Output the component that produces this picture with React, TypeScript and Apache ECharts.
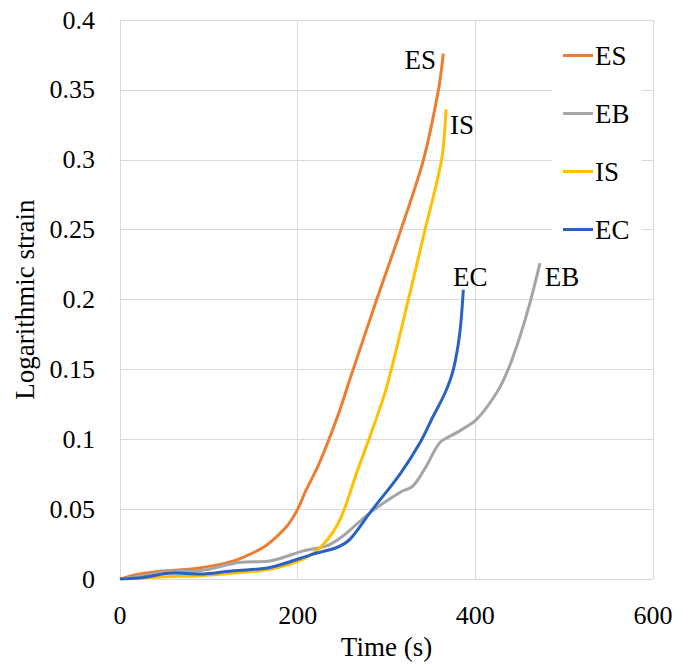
import React, { useEffect, useRef } from "react";
import * as echarts from "echarts";

const seriesNames = ["ES", "EB", "IS", "EC"];
const colors = ["#ED7D31", "#A5A5A5", "#FFC000", "#2962C4"];

const esData: [number, number][] = [
  [0, 0], [22, 0.0036], [52, 0.006], [86, 0.0076], [128, 0.013], [158, 0.0214],
  [169, 0.0262], [188, 0.038], [199, 0.0488], [210, 0.0643], [223, 0.081],
  [234.5, 0.0988], [247.7, 0.1214], [258.8, 0.143], [289, 0.2], [315, 0.2476],
  [341.6, 0.3], [358.5, 0.35], [364, 0.376],
];
const ebData: [number, number][] = [
  [0, 0], [26, 0.0024], [52, 0.0052], [90, 0.006], [135, 0.012], [169, 0.013],
  [206.4, 0.0202], [232.6, 0.0238], [251.4, 0.031], [281.5, 0.0476], [315, 0.062],
  [330, 0.0667], [345, 0.081], [360, 0.0976], [379, 0.1048], [401.5, 0.1143],
  [424, 0.1333], [437, 0.15], [450.3, 0.1738], [461.5, 0.1976], [472.8, 0.226],
];
const isData: [number, number][] = [
  [0, 0], [52, 0.0017], [90, 0.0024], [128, 0.0043], [169, 0.0071], [206, 0.0143],
  [229, 0.025], [248, 0.043], [266.4, 0.076], [281.5, 0.1024], [300, 0.137],
  [324.6, 0.2], [343.4, 0.25], [362, 0.3], [367, 0.336],
];
const ecData: [number, number][] = [
  [0, 0], [26, 0.0012], [60, 0.0043], [90, 0.0036], [128, 0.006], [169, 0.0083],
  [217.6, 0.0179], [244, 0.0226], [259, 0.0286], [281.5, 0.0476], [315, 0.075],
  [337.7, 0.0976], [352.7, 0.1167], [366, 0.1333], [375.3, 0.15], [382.5, 0.176],
  [386.5, 0.207],
];

const xTicks = { min: 0, max: 600, interval: 200 };
const yTicks = { min: 0, max: 0.4, interval: 0.05 };

const FONT = "Liberation Serif, Times New Roman, serif";
const labelOffsets: Record<string, [number, number]> = {
  ES: [-23, 6],
  EB: [22, 14],
  IS: [16, 16],
  EC: [7, -13],
};

export default function App() {
  const ref = useRef<HTMLDivElement>(null);
  useEffect(() => {
    if (!ref.current) return;
    const chart = echarts.init(ref.current, null, { renderer: "svg" });
    const all = [esData, ebData, isData, ecData];
    const series = seriesNames.map((name, i) => ({
      name,
      type: "line",
      smooth: 0.3,
      symbol: "none",
      itemStyle: { color: colors[i] },
      lineStyle: { color: colors[i], width: 3 },
      z: 2 + i,
      endLabel: {
        show: true,
        formatter: name,
        distance: 0,
        align: "center",
        verticalAlign: "middle",
        offset: labelOffsets[name],
        fontFamily: FONT,
        fontSize: 27,
        color: "#000",
      },
      data: all[i],
    }));
    chart.setOption({
      animation: false,
      backgroundColor: "#fff",
      grid: { left: 120, top: 20, right: 35, bottom: 85 },
      legend: {
        data: seriesNames,
        orient: "vertical",
        left: 552,
        top: 32,
        padding: [10, 12, 10, 11],
        itemGap: 31,
        itemWidth: 30,
        itemHeight: 3,
        icon: "rect",
        backgroundColor: "#fff",
        textStyle: { fontFamily: FONT, fontSize: 27, color: "#000", padding: [0, 0, 0, -3] },
      },
      xAxis: {
        type: "value",
        min: xTicks.min,
        max: xTicks.max,
        interval: xTicks.interval,
        name: "Time (s)",
        nameLocation: "middle",
        nameGap: 53,
        nameTextStyle: { fontFamily: FONT, fontSize: 27, color: "#000" },
        axisLine: { show: true, lineStyle: { color: "#d9d9d9", width: 1 } },
        axisTick: { show: false },
        axisLabel: { fontFamily: FONT, fontSize: 26, color: "#000", margin: 23 },
        splitLine: { show: true, lineStyle: { color: "#d9d9d9", width: 1 } },
      },
      yAxis: {
        type: "value",
        min: yTicks.min,
        max: yTicks.max,
        interval: yTicks.interval,
        name: "Logarithmic strain",
        nameLocation: "middle",
        nameGap: 80,
        nameTextStyle: { fontFamily: FONT, fontSize: 27, color: "#000" },
        axisLine: { show: true, lineStyle: { color: "#d9d9d9", width: 1 } },
        axisTick: { show: false },
        axisLabel: { fontFamily: FONT, fontSize: 26, color: "#000", margin: 25 },
        splitLine: { show: true, lineStyle: { color: "#d9d9d9", width: 1 } },
      },
      series,
    });
    return () => chart.dispose();
  }, []);
  return (
    <div
      ref={ref}
      style={{ position: "fixed", left: 0, top: 0, width: 688, height: 665 }}
    />
  );
}
